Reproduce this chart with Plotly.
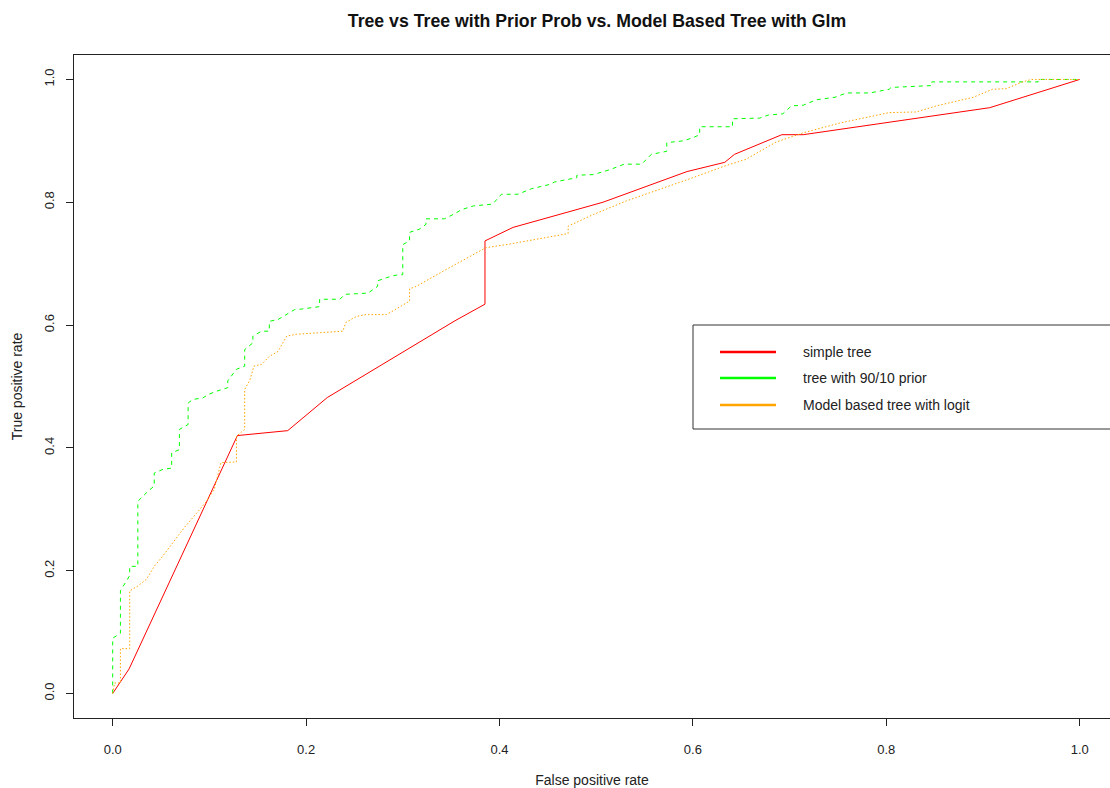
import plotly.graph_objects as go

# ---- data ----
simple_fpr = [0.0, 0.017, 0.129, 0.181, 0.222, 0.354, 0.385, 0.385, 0.414, 0.507,
              0.594, 0.633, 0.643, 0.692, 0.714, 0.907, 1.0]
simple_tpr = [0.0, 0.040, 0.420, 0.428, 0.482, 0.607, 0.634, 0.737, 0.759, 0.800,
              0.850, 0.865, 0.878, 0.910, 0.910, 0.954, 1.0]

prior_fpr = [0.0, 0.0, 0.008, 0.008, 0.0176, 0.0176, 0.026, 0.026, 0.035, 0.043, 0.043,
             0.052, 0.061, 0.061, 0.069, 0.069, 0.078, 0.078, 0.083, 0.093, 0.099,
             0.107, 0.119, 0.119, 0.128, 0.1365, 0.1365, 0.145, 0.145, 0.154, 0.162,
             0.162, 0.171, 0.180, 0.188, 0.195, 0.207, 0.214, 0.214, 0.235, 0.240,
             0.264, 0.274, 0.274, 0.283, 0.292, 0.300, 0.300, 0.307, 0.307, 0.317,
             0.324, 0.324, 0.343, 0.352, 0.361, 0.373, 0.386, 0.393, 0.402, 0.419,
             0.433, 0.452, 0.457, 0.469, 0.480, 0.480, 0.497, 0.514, 0.529, 0.547,
             0.557, 0.573, 0.573, 0.590, 0.600, 0.607, 0.607, 0.641, 0.641, 0.669,
             0.678, 0.693, 0.702, 0.714, 0.728, 0.747, 0.759, 0.783, 0.790, 0.803,
             0.805, 0.822, 0.847, 0.847, 0.957, 0.957, 1.0]
prior_tpr = [0.0, 0.090, 0.098, 0.167, 0.192, 0.207, 0.207, 0.313, 0.327, 0.338, 0.359,
             0.365, 0.367, 0.392, 0.397, 0.430, 0.438, 0.473, 0.479, 0.481, 0.487,
             0.492, 0.498, 0.509, 0.528, 0.533, 0.560, 0.571, 0.582, 0.590, 0.590,
             0.606, 0.609, 0.617, 0.625, 0.626, 0.628, 0.630, 0.642, 0.642, 0.650,
             0.652, 0.663, 0.672, 0.677, 0.681, 0.682, 0.731, 0.737, 0.751, 0.756,
             0.764, 0.773, 0.773, 0.780, 0.788, 0.794, 0.796, 0.797, 0.813, 0.813,
             0.822, 0.829, 0.833, 0.837, 0.840, 0.844, 0.845, 0.853, 0.862, 0.862,
             0.878, 0.883, 0.897, 0.900, 0.905, 0.910, 0.923, 0.923, 0.936, 0.937,
             0.942, 0.944, 0.957, 0.958, 0.967, 0.971, 0.978, 0.978, 0.980, 0.984,
             0.987, 0.988, 0.990, 0.996, 0.996, 1.0, 1.0]

logit_fpr = [0.0, 0.002, 0.008, 0.008, 0.0176, 0.0176, 0.026, 0.035, 0.043, 0.052,
             0.061, 0.074, 0.087, 0.097, 0.105, 0.112, 0.128, 0.128, 0.1365, 0.1365,
             0.142, 0.146, 0.154, 0.162, 0.171, 0.180, 0.190, 0.238, 0.241, 0.252,
             0.262, 0.283, 0.292, 0.307, 0.307, 0.314, 0.342, 0.369, 0.386, 0.411,
             0.445, 0.471, 0.471, 0.497, 0.531, 0.566, 0.600, 0.633, 0.655, 0.686,
             0.714, 0.752, 0.803, 0.831, 0.852, 0.890, 0.910, 0.924, 0.941, 0.950, 1.0]
logit_tpr = [0.0, 0.017, 0.017, 0.073, 0.073, 0.167, 0.175, 0.186, 0.207, 0.224,
             0.243, 0.270, 0.294, 0.313, 0.332, 0.376, 0.377, 0.419, 0.430, 0.495,
             0.511, 0.533, 0.536, 0.549, 0.557, 0.582, 0.585, 0.590, 0.604, 0.614,
             0.617, 0.617, 0.625, 0.639, 0.659, 0.663, 0.688, 0.712, 0.726, 0.732,
             0.742, 0.749, 0.761, 0.780, 0.802, 0.821, 0.840, 0.859, 0.870, 0.898,
             0.913, 0.929, 0.946, 0.947, 0.957, 0.971, 0.984, 0.985, 0.996, 1.0, 1.0]

tick_vals = [0.0, 0.2, 0.4, 0.6, 0.8, 1.0]
tick_text = ["0.0", "0.2", "0.4", "0.6", "0.8", "1.0"]

series_names = ["simple tree", "tree with 90/10 prior", "Model based tree with logit"]
series_colors = ["#FF0000", "#00FF00", "#FFA500"]

title_text = "Tree vs Tree with Prior Prob vs. Model Based Tree with Glm"
x_title = "False positive rate"
y_title = "True positive rate"

# ---- figure ----
fig = go.Figure()
fig.add_trace(go.Scatter(x=simple_fpr, y=simple_tpr, mode="lines", name=series_names[0],
                         line=dict(color=series_colors[0], width=1), showlegend=False))
fig.add_trace(go.Scatter(x=prior_fpr, y=prior_tpr, mode="lines", name=series_names[1],
                         line=dict(color=series_colors[1], width=1, dash="4px,4px"),
                         showlegend=False))
fig.add_trace(go.Scatter(x=logit_fpr, y=logit_tpr, mode="lines", name=series_names[2],
                         line=dict(color=series_colors[2], width=1, dash="1.5px,2px"),
                         showlegend=False))

W, H = 1110, 788
L, T, B, R = 74, 55, 70, 0
pw = W - L - R
ph = H - T - B

def px_x(p):
    return (p - L) / pw

def px_y(p):
    return (H - B - p) / ph

# legend frame: open on the right (it runs past the page edge)
bx0, bx1 = px_x(693), 1.05
by0, by1 = px_y(429), px_y(325)
shapes = [
    dict(type="rect", xref="paper", yref="paper", x0=bx0, x1=bx1, y0=by0, y1=by1,
         line=dict(width=0), fillcolor="white", layer="above"),
    dict(type="path", xref="paper", yref="paper",
         path=f"M {bx1},{by0} L {bx0},{by0} L {bx0},{by1} L {bx1},{by1}",
         line=dict(color="#333333", width=1), layer="above"),
]
annotations = []
row_y = [352, 378, 405]
for name, col, ry in zip(series_names, series_colors, row_y):
    shapes.append(dict(type="line", xref="paper", yref="paper",
                       x0=px_x(720), x1=px_x(776), y0=px_y(ry), y1=px_y(ry),
                       line=dict(color=col, width=2.5), layer="above"))
    annotations.append(dict(xref="paper", yref="paper", x=px_x(801), y=px_y(ry),
                            text=name, showarrow=False, xanchor="left", yanchor="middle",
                            font=dict(size=14, color="#222222")))

fig.update_layout(
    width=W, height=H,
    margin=dict(l=L, r=R, t=T, b=B, autoexpand=False),
    paper_bgcolor="white", plot_bgcolor="white",
    font=dict(family="Liberation Sans, Arial, sans-serif", size=13, color="#222222"),
    title=dict(text="<b>" + title_text + "</b>", x=px_x(597), xref="paper", xanchor="center",
               y=1 - 21 / H, yanchor="middle", font=dict(size=17.7, color="#111111")),
    shapes=shapes, annotations=annotations,
    showlegend=False,
)
fig.update_xaxes(range=[-0.04, -0.04 + pw / 967], showgrid=False, zeroline=False,
                 showline=True, mirror=True, linecolor="#222222", linewidth=1,
                 ticks="outside", ticklen=7, tickcolor="#222222",
                 tickvals=tick_vals, ticktext=tick_text, ticklabelstandoff=12,
                 title=dict(text=x_title, standoff=19, font=dict(size=14)))
fig.update_yaxes(range=[-0.04, -0.04 + ph / 614], showgrid=False, zeroline=False,
                 showline=True, mirror=False, linecolor="#222222", linewidth=1,
                 ticks="outside", ticklen=7, tickcolor="#222222",
                 tickvals=tick_vals, ticktext=tick_text, tickangle=-90, ticklabelstandoff=7,
                 title=dict(text=y_title, standoff=15, font=dict(size=14)))

fig.write_html("out.html",
               config={"displayModeBar": False},
               post_script="document.body.style.margin='0';"
                           "document.body.style.overflow='hidden';"
                           "document.documentElement.style.overflow='hidden';")
